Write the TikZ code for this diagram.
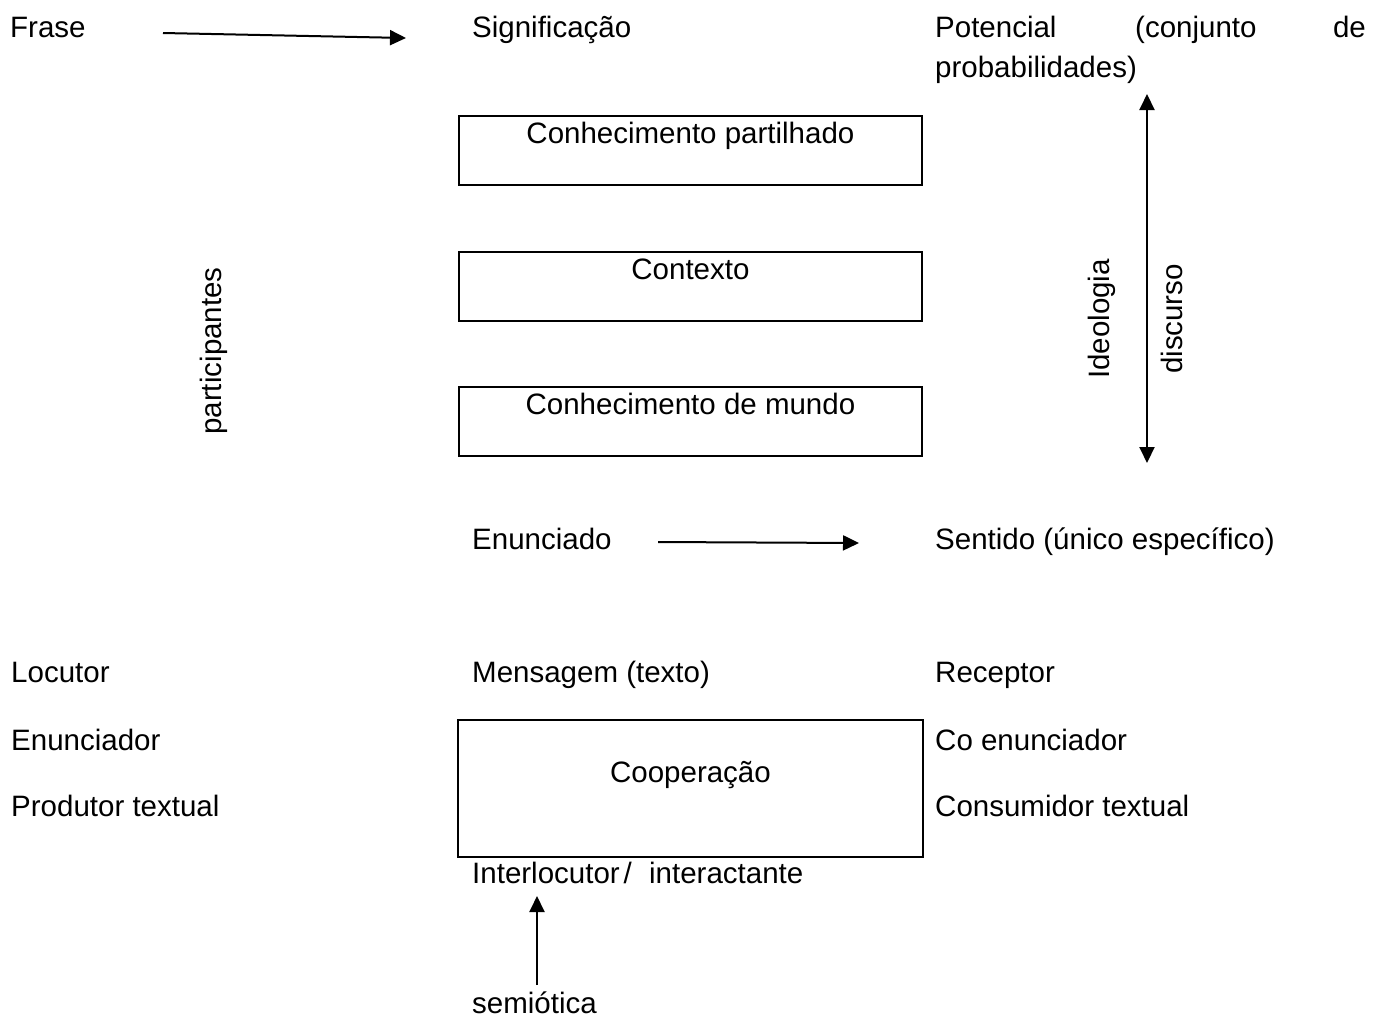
\documentclass[tikz,border=0pt]{standalone}
\usepackage{fontspec}
\setmainfont{Liberation Sans}
\usetikzlibrary{arrows.meta}
\begin{document}
\begin{tikzpicture}[x=1pt,y=-1pt,
  every node/.style={font=\fontsize{29.5}{34}\selectfont, inner sep=0pt},
  lbl/.style={anchor=base west},
  box/.style={draw=black, line width=1.9pt, anchor=north west},
  arr/.style={line width=2pt, -{Triangle[length=16pt,width=15pt]}},
  darr/.style={line width=2pt, {Triangle[length=16pt,width=15pt]}-{Triangle[length=16pt,width=15pt]}}]
\useasboundingbox (0,0) rectangle (1373,1018);

% top row
\node[lbl] (frase) at (10,37) {Frase};
\node[lbl] (signif) at (472,37) {Significação};
\node[lbl] (pot) at (935,37) {Potencial};
\node[lbl] (conj) at (1135,37) {(conjunto};
\node[anchor=base east] (de) at (1366,37) {de};
\node[lbl] (prob) at (935,77) {probabilidades)};
\coordinate (a1s) at (163,33);
\coordinate (a1e) at (406,38);
\draw[arr] (a1s) -- (a1e);

% boxes
\node[box, minimum width=463pt, minimum height=69pt] (b1) at (458,115) {};
\node[anchor=base] (t1) at ([yshift=-28pt]b1.north) {Conhecimento partilhado};
\node[box, minimum width=463pt, minimum height=69pt] (b2) at (458,251) {};
\node[anchor=base] (t2) at ([yshift=-28pt]b2.north) {Contexto};
\node[box, minimum width=463pt, minimum height=69pt] (b3) at (458,386) {};
\node[anchor=base] (t3) at ([yshift=-28pt]b3.north) {Conhecimento de mundo};

% rotated labels
\node[rotate=90] (part) at (214,351) {participantes};
\node[rotate=90] (ideo) at (1102,319) {Ideologia};
\node[rotate=90] (disc) at (1172,319) {discurso};
\coordinate (dtop) at (1147,94);
\coordinate (dbot) at (1147,463);
\draw[darr] (dtop) -- (dbot);

% enunciado row
\node[lbl] (enun) at (472,549) {Enunciado};
\node[lbl] (sent) at (935,549) {Sentido (único específico)};
\coordinate (a2s) at (658,542);
\coordinate (a2e) at (859,543);
\draw[arr] (a2s) -- (a2e);

% bottom section
\node[lbl] (loc) at (11,682) {Locutor};
\node[lbl] (enunc) at (11,750) {Enunciador};
\node[lbl] (prod) at (11,816) {Produtor textual};
\node[lbl] (mens) at (472,682) {Mensagem (texto)};
\node[lbl] (rec) at (935,682) {Receptor};
\node[lbl] (coen) at (935,750) {Co enunciador};
\node[lbl] (cons) at (935,816) {Consumidor textual};
\node[box, minimum width=465pt, minimum height=137pt] (b4) at (457,719) {};
\node[anchor=base] (t4) at ([yshift=-63pt]b4.north) {Cooperação};
\node[lbl] (inter) at (472,883) {Interlocutor\hspace{4pt}/\hspace{9pt} interactante};
\node[lbl] (semi) at (472,1013) {semiótica};
\coordinate (a3s) at (537,985);
\coordinate (a3e) at (537,896);
\draw[arr] (a3s) -- (a3e);
\end{tikzpicture}
\end{document}
